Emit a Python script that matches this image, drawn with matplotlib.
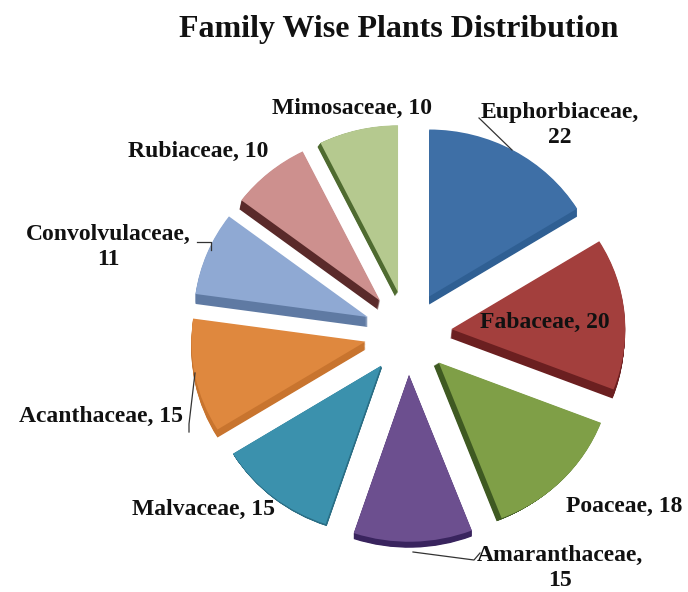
import matplotlib
matplotlib.use("Agg")
import matplotlib.pyplot as plt
from matplotlib.lines import Line2D

W, H = 688, 592
families = ["Euphorbiaceae", "Fabaceae", "Poaceae", "Amaranthaceae", "Malvaceae",
            "Acanthaceae", "Convolvulaceae", "Rubiaceae", "Mimosaceae"]
counts = [22, 20, 18, 15, 15, 15, 11, 10, 10]
face_colors = ["#3E6FA6", "#A33F3D", "#7F9F47", "#6C4F8F", "#3B91AD",
               "#DF883E", "#8FA9D3", "#CD908E", "#B5C98F"]
wall_colors = ["#2F5F93", "#6B1F20", "#3F5A22", "#39245E", "#2A6E85",
               "#C8742E", "#5F7AA3", "#5A2A2A", "#4F6B30"]
# side-wall direction of each slice, in pixels (x, y up)
wall_shift = [(0, -8), (-1, -9), (-5, -3), (0, -6), (1, -2),
              (0, -8), (0, -10), (-2, -9), (-3, -4)]

# label text, position (px, y down)
label_texts = ["Euphorbiaceae,\n22", "Fabaceae, 20", "Poaceae, 18", "Amaranthaceae,\n15",
               "Malvaceae, 15", "Acanthaceae, 15", "Convolvulaceae,\n11", "Rubiaceae, 10",
               "Mimosaceae, 10"]
label_pos = [(560, 125), (545, 322), (624, 506), (560, 568),
             (203, 509), (101, 416), (108, 247), (198, 151), (352, 108)]

leaders = [[(479, 118), (512, 150)],
           [(197, 242), (211, 242), (211, 250)],
           [(195, 373), (189, 424), (189, 432)],
           [(413, 552), (474, 560), (480, 553)]]

CX, CY, RX, RY = 408, 333, 174, 167
EXPLODE = 0.25

fig = plt.figure(figsize=(W / 100, H / 100), dpi=100, facecolor="white")
ax = fig.add_axes([0, 0, 1, 1])

N_LAYERS = 10
for k in range(N_LAYERS, 0, -1):
    wedges, _ = ax.pie(counts, explode=[EXPLODE] * len(counts), colors=wall_colors,
                       startangle=90, counterclock=False, radius=1.0)
    for w, (dx, dy) in zip(wedges, wall_shift):
        cx, cy = w.center
        w.set_center((cx + dx * k / N_LAYERS / RX, cy + dy * k / N_LAYERS / RY))
        w.set_zorder(1)
        w.set_edgecolor("none")

wedges, _ = ax.pie(counts, explode=[EXPLODE] * len(counts), colors=face_colors,
                   startangle=90, counterclock=False, radius=1.0)
for w in wedges:
    w.set_zorder(2)
    w.set_edgecolor("none")

ax.set_box_aspect(None)
ax.set_aspect("auto")
ax.set_xlim(-CX / RX, (W - CX) / RX)
ax.set_ylim(-(H - CY) / RY, CY / RY)
ax.axis("off")

font = dict(family="Liberation Serif", fontweight="bold", color="#111111")
fig.text(399 / W, 1 - 30 / H, "Family Wise Plants Distribution", fontsize=23,
         ha="center", va="center", **font)
for txt, (x, y) in zip(label_texts, label_pos):
    fig.text(x / W, 1 - y / H, txt, fontsize=17, ha="center", va="center",
             linespacing=1.25, zorder=5, **font)

for pts in leaders:
    fig.add_artist(Line2D([p[0] / W for p in pts], [1 - p[1] / H for p in pts],
                          color="#333333", lw=0.9))

fig.savefig("out.png", dpi=100, facecolor="white")
